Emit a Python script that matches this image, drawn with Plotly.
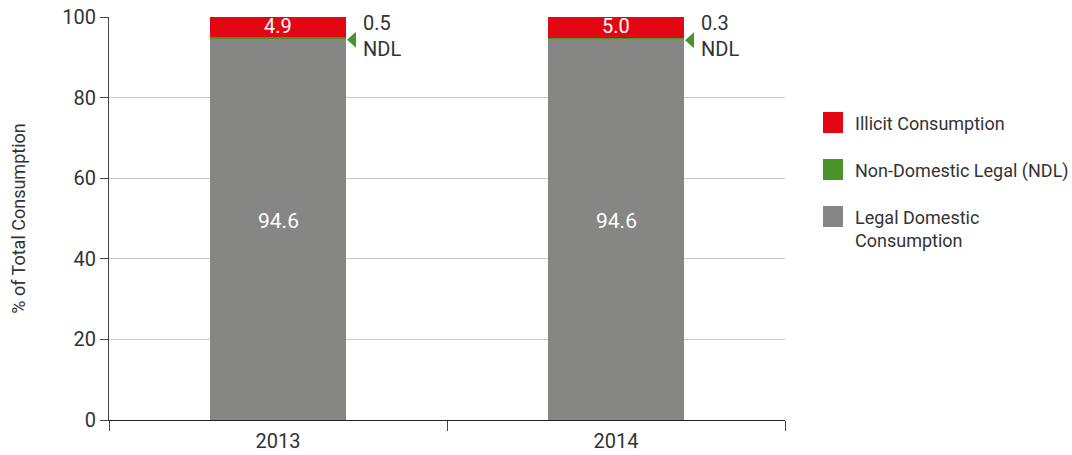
import plotly.graph_objects as go

years = ["2013", "2014"]
legal_domestic = [94.6, 94.6]
non_domestic_legal = [0.5, 0.3]
illicit = [4.9, 5.0]
y_ticks = [0, 20, 40, 60, 80, 100]

series_names = ["Legal Domestic<br>Consumption", "Non-Domestic Legal (NDL)", "Illicit Consumption"]
colors = {"legal": "#868685", "ndl": "#4a922a", "illicit": "#e30613"}
font_family = "Roboto"
text_color = "#333333"

fig = go.Figure()
fig.add_trace(go.Bar(x=years, y=legal_domestic, name=series_names[0], marker_color=colors["legal"]))
fig.add_trace(go.Bar(x=years, y=non_domestic_legal, name=series_names[1], marker_color=colors["ndl"]))
fig.add_trace(go.Bar(x=years, y=illicit, name=series_names[2], marker_color=colors["illicit"]))

for idx, (lg, nd, il) in enumerate(zip(legal_domestic, non_domestic_legal, illicit)):
    # value labels inside the grey and red segments (x = category index)
    fig.add_annotation(x=idx, y=lg / 2, xref="x", yref="y", text=f"{lg:.1f}", showarrow=False,
                       yshift=8, font=dict(color="white", size=21, family=font_family))
    fig.add_annotation(x=idx, y=lg + nd + il / 2, xref="x", yref="y", text=f"{il:.1f}",
                       showarrow=False, yshift=1,
                       font=dict(color="white", size=20, family=font_family))
    # NDL callout: left-pointing triangle anchored at the NDL segment, label beside it
    ypos = lg + nd / 2
    fig.add_shape(type="path", xref="x", yref="y", xsizemode="pixel", ysizemode="pixel",
                  xanchor=idx, yanchor=ypos, path="M 69,-2 L 78,-10 L 78,6 Z",
                  fillcolor=colors["ndl"], line_width=0)
    fig.add_annotation(x=idx, y=ypos, xref="x", yref="y", text=f"{nd}<br>NDL", showarrow=False,
                       xanchor="left", xshift=83, yshift=2, align="left",
                       font=dict(color=text_color, size=20, family=font_family))

# Legend drawn as swatches + labels on the right
legend_items = [(colors["illicit"], series_names[2]), (colors["ndl"], series_names[1]),
                (colors["legal"], series_names[0])]
plot_left, plot_right, plot_top, plot_bottom = 109, 785, 17, 420
W, H = 1072, 455
pw, ph = plot_right - plot_left, plot_bottom - plot_top
for i, (c, label) in enumerate(legend_items):
    top = 112 + i * 47
    x0 = (823 - plot_left) / pw
    x1 = (843 - plot_left) / pw
    y0 = (plot_bottom - top) / ph
    y1 = (plot_bottom - top - 21) / ph
    fig.add_shape(type="rect", xref="paper", yref="paper", x0=x0, x1=x1, y0=y1, y1=y0,
                  fillcolor=c, line_width=0)
    fig.add_annotation(xref="paper", yref="paper", x=(853 - plot_left) / pw, y=y0 + 1 / ph,
                       text=label, showarrow=False, xanchor="left", yanchor="top", align="left",
                       font=dict(color=text_color, size=18, family=font_family))

fig.update_traces(marker_line_width=0)
fig.update_layout(
    barmode="stack",
    bargap=0.598,
    width=W, height=H,
    margin=dict(l=plot_left, r=W - plot_right, t=plot_top, b=H - plot_bottom, autoexpand=False),
    plot_bgcolor="white", paper_bgcolor="white",
    showlegend=False,
    font=dict(family=font_family, color=text_color),
)
fig.update_yaxes(range=[0, 100], tickvals=y_ticks, showgrid=True, gridcolor="#c8c8c8", gridwidth=1,
                 showline=True, linecolor="#444", linewidth=1, ticks="outside", ticklen=8,
                 tickcolor="#444", tickfont=dict(size=20, color=text_color), zeroline=False,
                 title=dict(text="% of Total Consumption", font=dict(size=18, color=text_color), standoff=31))
fig.update_xaxes(type="category", range=[-0.5, 1.5], showline=True, linecolor="#222", linewidth=1,
                 ticks="outside", ticklen=10, tickson="boundaries", tickcolor="#444", tickangle=0,
                 ticklabelstandoff=3, tickfont=dict(size=20, color=text_color))

fig.write_html("out.html")
